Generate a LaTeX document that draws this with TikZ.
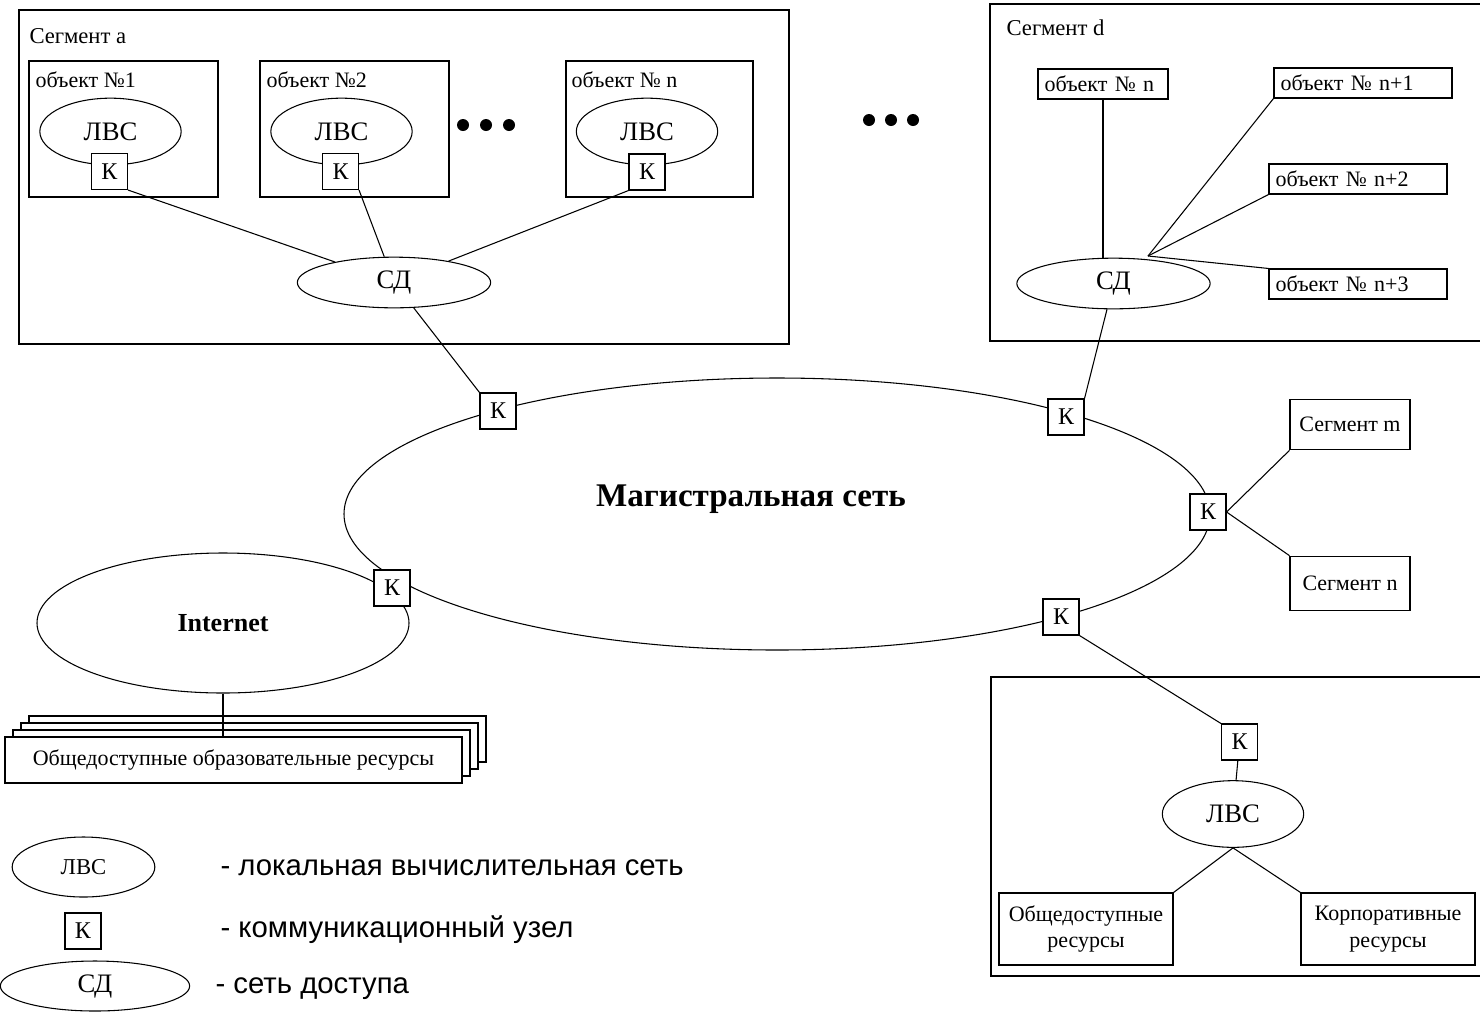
\documentclass[tikz,border=0pt]{standalone}
\usepackage{fontspec}
\setmainfont{Liberation Serif}
\newfontfamily\legendfont{Liberation Sans}
\usetikzlibrary{shapes.geometric}

\begin{document}
\begin{tikzpicture}[x=0.75pt,y=-0.75pt,line width=0.8pt,
  knode/.style={draw, fill=white, minimum size=27pt, inner sep=0pt, font=\fontsize{18}{20}\selectfont},
  lvs/.style={draw, ellipse, minimum width=106pt, minimum height=50pt, inner sep=0pt, font=\fontsize{20}{22}\selectfont},
  sdnode/.style={draw, ellipse, minimum width=145pt, minimum height=38pt, inner sep=0pt, font=\fontsize{20}{22}\selectfont},
  lbl/.style={anchor=base west, inner sep=0pt, font=\fontsize{16.5}{19}\selectfont},
  objbox/.style={draw, inner xsep=5pt, inner ysep=0pt, minimum height=22.5pt, align=left, font=\fontsize{16.5}{19}\selectfont},
  resbox/.style={draw, fill=white, align=center, inner sep=0pt, font=\fontsize{16.5}{20}\selectfont},
  legend/.style={anchor=west, inner sep=0pt, font=\legendfont\fontsize{22}{25}\selectfont},
  dot/.style={circle, fill, inner sep=0pt, minimum size=9pt}]
\useasboundingbox (0,0) rectangle (1480,1011);

%Segment frames
\draw (19,10) rectangle (789,344);
\draw (990,4) rectangle (1490,341);
\draw (991,677) rectangle (1490,976);
%Object frames of Segment a
\draw (29,61) rectangle (218,197);
\draw (260,61) rectangle (449,197);
\draw (566,61) rectangle (753,197);

% Text Node
\node[lbl, font=\fontsize{17}{20}\selectfont] (sega) at (29,43) {Сегмент а};
\node[lbl] (ob1) at (35,87) {объект №1};
\node[lbl] (ob2) at (266,87) {объект №2};
\node[lbl] (obn) at (571,87) {объект № n};
\node[lbl, font=\fontsize{17}{20}\selectfont] (segd) at (1006,35) {Сегмент d};

%Dots
\foreach \x in {463,486,509} \node[dot] (dota\x) at (\x,125) {};
\foreach \x in {869,891,913} \node[dot] (dotb\x) at (\x,120) {};

%Shape: Ellipses
\node[lvs] (lvs1) at (110.5,131.5) {ЛВС};
\node[lvs] (lvs2) at (341.5,131.5) {ЛВС};
\node[lvs] (lvsn) at (647,131.5) {ЛВС};
\node[sdnode] (sda) at (394,282.5) {СД};
\node[sdnode] (sdd) at (1113.5,283.5) {СД};
\node[draw, ellipse, minimum width=649.5pt, minimum height=204pt, inner sep=0pt] (backbone) at (777,514) {};
\node[font=\bfseries\fontsize{24.8}{28}\selectfont] (bblabel) at (751,499) {Магистральная сеть};
\node[draw, ellipse, minimum width=279pt, minimum height=105pt, inner sep=0pt, font=\bfseries\fontsize{19.5}{22}\selectfont] (inet) at (223,623) {Internet};
\node[lvs] (lvsb) at (1233,814) {ЛВС};

%Objects of Segment d
\node[objbox, text width=87.5pt] (dn) at (1103,84) {объект № n};
\node[objbox, text width=123.5pt] (dn1) at (1363,83) {объект № n+1};
\node[objbox, text width=123.5pt] (dn2) at (1358,179) {объект № n+2};
\node[objbox, text width=123.5pt] (dn3) at (1358,284) {объект № n+3};
\coordinate (hub) at (1148,256);

%Segments m, n
\node[draw, minimum width=90pt, minimum height=38pt, font=\fontsize{16.5}{19}\selectfont] (segm) at (1350,424.5) {Сегмент m};
\node[draw, minimum width=90pt, minimum height=41pt, font=\fontsize{16.5}{19}\selectfont] (segn) at (1350,583.5) {Сегмент n};

%Resources
\foreach \i in {3,2,1} \draw[fill=white] (5+8*\i,737-7*\i) rectangle ++(457,46);
\node[resbox, minimum width=342.75pt, minimum height=34.5pt] (pubres) at (233.5,760) {Общедоступные образовательные ресурсы};
\node[resbox, minimum width=130.5pt, minimum height=54pt] (pub) at (1086,929) {Общедоступные\\ресурсы};
\node[resbox, minimum width=130.5pt, minimum height=54pt] (corp) at (1388,929) {Корпоративные\\ресурсы};

%Communication nodes
\node[knode] (k1) at (109.5,171.5) {К};
\node[knode] (k2) at (340.5,171.5) {К};
\node[knode] (kn) at (647,172) {К};
\node[knode] (kb1) at (498,411) {К};
\node[knode] (kb2) at (1066,417) {К};
\node[knode] (kb3) at (1208,512) {К};
\node[knode] (kb4) at (1061,617) {К};
\node[knode] (kb5) at (392,588) {К};
\node[knode] (kc) at (1239.5,742) {К};

%Straight Lines
\draw (k1.south east) -- (sda);
\draw (k2.south east) -- (sda);
\draw (kn.south west) -- (sda);
\draw (sda) -- (kb1.north west);
\draw (dn) -- (dn |- sdd.north);
\draw (dn1.south west) -- (hub);
\draw (dn2.south west) -- (hub);
\draw (dn3.north west) -- (hub);
\draw (sdd) -- (kb2.north east);
\draw (kb3.east) -- (segm.south west);
\draw (kb3.east) -- (segn.north west);
\draw (kb4.south east) -- (kc.north west);
\draw (kc) -- (lvsb);
\draw (lvsb.south) -- (pub.north east);
\draw (lvsb.south) -- (corp.north west);
\draw (inet) -- (inet |- pubres.north);

%Legend
\node[lvs, minimum width=107pt, minimum height=45pt, font=\fontsize{17}{20}\selectfont] (leglvs) at (83.5,867) {ЛВС};
\node[knode] (legk) at (83,931) {К};
\node[sdnode, minimum width=142pt, minimum height=37.5pt] (legsd) at (95,986) {СД};
\node[legend] (legt1) at (220,868) {- локальная вычислительная сеть};
\node[legend] (legt2) at (220,930) {- коммуникационный узел};
\node[legend] (legt3) at (215,989) {- сеть доступа};

\end{tikzpicture}
\end{document}
